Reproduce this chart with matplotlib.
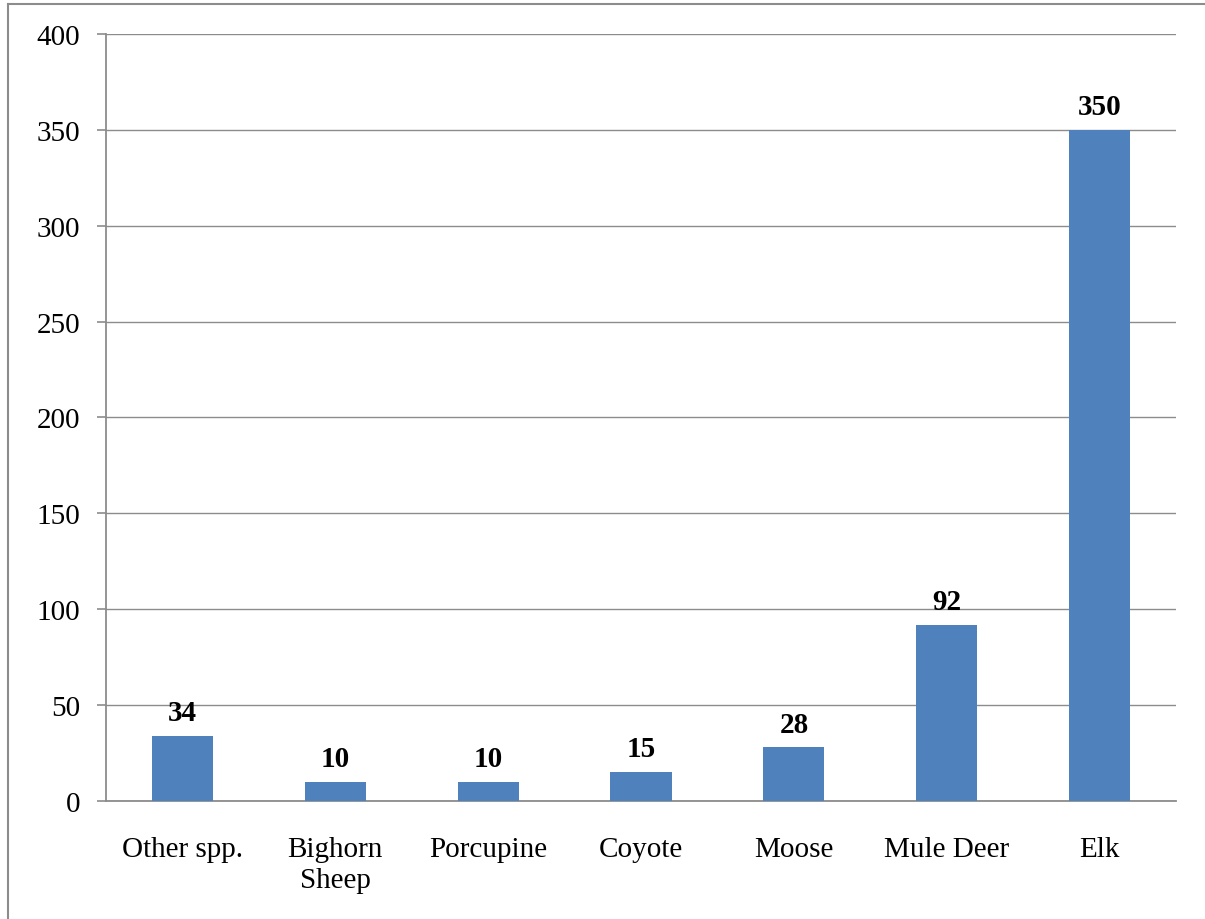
import matplotlib.pyplot as plt
from matplotlib.lines import Line2D

# Species counts
species = ['Other spp.', 'Bighorn\nSheep', 'Porcupine', 'Coyote', 'Moose', 'Mule Deer', 'Elk']
counts = [34, 10, 10, 15, 28, 92, 350]

plt.rcParams['font.family'] = ['Liberation Serif', 'DejaVu Serif']

fig = plt.figure(figsize=(12.05, 9.2), dpi=100)
ax = fig.add_axes([0.088, 0.1283, 0.888, 0.8337])

x = range(len(species))
bars = ax.bar(x, counts, width=0.4, color='#4F81BD', zorder=3)

ax.set_xlim(-0.5, len(species) - 0.5)
ax.set_ylim(0, 400)
ax.set_yticks(range(0, 401, 50))
ax.yaxis.grid(True, color='#8c8c8c', linewidth=1, zorder=0)

ax.set_xticks(list(x))
ax.set_xticklabels(species, fontsize=21, linespacing=1.25)
ax.tick_params(axis='x', length=0, pad=25)
ax.tick_params(axis='y', labelsize=21, length=6.5, width=1.2, color='#8c8c8c', pad=12)

for side in ['top', 'right']:
    ax.spines[side].set_visible(False)
for side in ['left', 'bottom']:
    ax.spines[side].set_color('#8c8c8c')
    ax.spines[side].set_linewidth(1.3)

# value labels above each bar
for b, v in zip(bars, counts):
    ax.annotate(str(v), (b.get_x() + b.get_width() / 2, v),
                xytext=(0, 7), textcoords='offset points',
                ha='center', va='bottom', fontsize=21, fontweight='bold')

# outer chart border
fig.add_artist(Line2D([0.0066, 0.0066], [0, 0.9945], color='#8c8c8c', linewidth=1.5))
fig.add_artist(Line2D([0.0066, 1.0], [0.9945, 0.9945], color='#8c8c8c', linewidth=1.5))

fig.savefig('out.png', dpi=100)
